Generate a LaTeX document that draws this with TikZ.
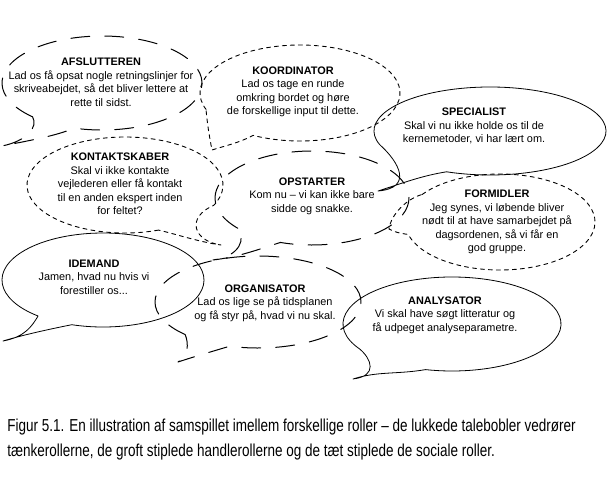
\documentclass[tikz,border=0pt]{standalone}
\usepackage{fontspec}
\setmainfont{Liberation Sans}
\newfontfamily\figfont[FakeStretch=0.78]{Liberation Sans}
\tikzset{
  every picture/.style={line width=0.9pt, line cap=round, line join=round},
  % boblernes linjetyper
  taenker/.style={line width=0.8pt},
  handler/.style={line width=1pt, dash pattern=on 19pt off 15pt},
  social/.style={line width=0.9pt, dash pattern=on 4pt off 4pt},
  % tekst i boblerne
  txt/.style={align=center, inner sep=0pt, font=\fontsize{10.9}{13.5}\selectfont},
  figtxt/.style={anchor=north west, align=left, inner sep=0pt, font=\figfont\fontsize{17.3}{25}\selectfont},
}

\begin{document}
\begin{tikzpicture}[x=1pt, y=-1pt]
  \useasboundingbox (0,0) rectangle (611,477);
  % AFSLUTTEREN
  \coordinate (afs) at (102,83);
  \coordinate (afs-tip) at (2,146);
  \draw[handler] (afs) ++(134:100 and 47) coordinate (afs-l)
    arc[start angle=134, end angle=466, x radius=100, y radius=47]
    .. controls +(-20,8) and +(30,-6) .. (afs-tip)
    .. controls +(25,-5) and +(6,10) .. (afs-l);
  \node[txt] (afs-txt) at (101,82) {\textbf{AFSLUTTEREN}\\Lad os få opsat nogle retningslinjer for\\skriveabejdet, så det bliver lettere at\\rette til sidst.};
  % KOORDINATOR
  \coordinate (koo) at (300,93);
  \coordinate (koo-tip) at (212,150);
  \draw[social] (koo) ++(160:100 and 48) coordinate (koo-l)
    arc[start angle=160, end angle=478, x radius=100, y radius=48]
    .. controls +(-15,8) and +(12,-4) .. (koo-tip)
    .. controls +(-3,-15) and +(1,12) .. (koo-l);
  \node[txt] (koo-txt) at (293,92) {\textbf{KOORDINATOR}\\Lad os tage en runde\\omkring bordet og høre\\de forskellige input til dette.};
  % SPECIALIST
  \coordinate (spe) at (490,131);
  \coordinate (spe-tip) at (378,191);
  \draw[taenker] (spe) ++(162:116 and 44) coordinate (spe-l)
    arc[start angle=162, end angle=472, x radius=116, y radius=44]
    .. controls +(-25,4) and +(25,-8) .. (spe-tip)
    .. controls +(35,-3) and +(20,18) .. (spe-l);
  \node[txt] (spe-txt) at (474,126) {\textbf{SPECIALIST}\\Skal vi nu ikke holde os til de\\kernemetoder, vi har lært om.};
  % KONTAKTSKABER
  \coordinate (kon) at (125,185);
  \coordinate (kon-tip) at (221,245);
  \draw[social] (kon) ++(70:98 and 48) coordinate (kon-b)
    arc[start angle=70, end angle=385, x radius=98, y radius=48]
    .. controls +(-28,12) and +(-28,-4) .. (kon-tip)
    .. controls +(-22,-3) and +(14,3) .. (kon-b);
  \node[txt] (kon-txt) at (120,184) {\textbf{KONTAKTSKABER}\\Skal vi ikke kontakte\\vejlederen eller få kontakt\\til en anden ekspert inden\\for feltet?};
  % OPSTARTER
  \coordinate (ops) at (312,198);
  \coordinate (ops-tip) at (213,260);
  \draw[handler] (ops) ++(140:97 and 47) coordinate (ops-l)
    arc[start angle=140, end angle=469, x radius=97, y radius=47]
    .. controls +(-25,8) and +(25,-3) .. (ops-tip)
    .. controls +(28,-4) and +(8,10) .. (ops-l);
  \node[txt] (ops-txt) at (312,196) {\textbf{OPSTARTER}\\Kom nu – vi kan ikke bare\\sidde og snakke.};
  % FORMIDLER
  \coordinate (for) at (500,222);
  \coordinate (for-tip) at (389,229);
  \draw[social] (for) ++(215:95 and 48) coordinate (for-u)
    arc[start angle=215, end angle=525, x radius=95, y radius=48]
    .. controls +(-8,-1) and +(5,3) .. (for-tip)
    .. controls +(2,-15) and +(-15,4) .. (for-u);
  \node[txt] (for-txt) at (497,222) {\textbf{FORMIDLER}\\Jeg synes, vi løbende bliver\\nødt til at have samarbejdet på\\dagsordenen, så vi får en\\god gruppe.};
  % IDEMAND
  \coordinate (ide) at (103,280);
  \coordinate (ide-tip) at (3,341);
  \draw[taenker] (ide) ++(130:101 and 47) coordinate (ide-l)
    arc[start angle=130, end angle=468, x radius=101, y radius=47]
    .. controls +(-25,5) and +(20,-6) .. (ide-tip)
    .. controls +(22,-4) and +(-6,10) .. (ide-l);
  \node[txt] (ide-txt) at (94,277) {\textbf{IDEMAND}\\Jamen, hvad nu hvis vi\\forestiller os...};
  % ORGANISATOR
  \coordinate (org) at (258,302);
  \coordinate (org-tip) at (178,362);
  \draw[handler] (org) ++(135:103 and 46) coordinate (org-l)
    arc[start angle=135, end angle=466, x radius=103, y radius=46]
    .. controls +(-20,6) and +(15,-5) .. (org-tip)
    .. controls +(10,-6) and +(4,10) .. (org-l);
  \node[txt] (org-txt) at (265,303) {\textbf{ORGANISATOR}\\Lad os lige se på tidsplanen\\og få styr på, hvad vi nu skal.};
  % ANALYSATOR
  \coordinate (ana) at (452,324);
  \coordinate (ana-tip) at (353,379);
  \draw[taenker] (ana) ++(148:109 and 47) coordinate (ana-l)
    arc[start angle=148, end angle=464, x radius=109, y radius=47]
    .. controls +(-30,5) and +(25,-8) .. (ana-tip)
    .. controls +(25,-3) and +(12,10) .. (ana-l);
  \node[txt] (ana-txt) at (445,315) {\textbf{ANALYSATOR}\\Vi skal have søgt litteratur og\\få udpeget analyseparametre.};
  % figurtekst
  \node[figtxt] (fig-txt) at (7,419) {Figur 5.1. En illustration af samspillet imellem forskellige roller – de lukkede talebobler vedrører\\tænkerollerne, de groft stiplede handlerollerne og de tæt stiplede de sociale roller.};
\end{tikzpicture}
\end{document}
